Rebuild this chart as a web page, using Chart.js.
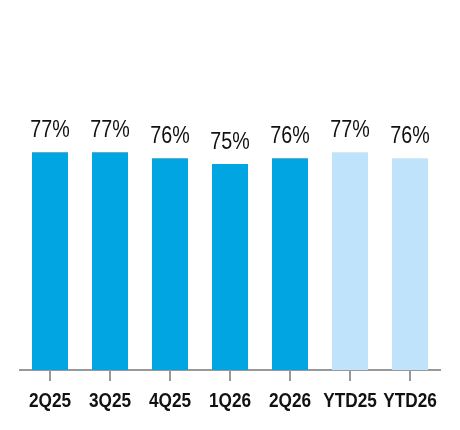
<!DOCTYPE html>
<html>
<head>
<meta charset="utf-8">
<script src="https://cdn.jsdelivr.net/npm/chart.js@4/dist/chart.umd.min.js"></script>
<style>
  html, body { margin: 0; padding: 0; background: #fff; }
  #wrap { width: 460px; height: 430px; position: relative; }
</style>
</head>
<body>
<div id="wrap"><canvas id="chart"></canvas></div>
<script>
"use strict";

const periods = ["2Q25", "3Q25", "4Q25", "1Q26", "2Q26", "YTD25", "YTD26"];
const ratios = [77, 77, 76, 75, 76, 77, 76];
const periodKinds = ["Q", "Q", "Q", "Q", "Q", "YTD", "YTD"];

const kindColor = { Q: "#00a5e1", YTD: "#bfe3fa" };
const narrow = 0.82;

// condensed text: no narrow face is installed, so squeeze Liberation Sans
function narrowText(ctx, text, x, y) {
  ctx.save();
  ctx.translate(x, y);
  ctx.scale(narrow, 1);
  ctx.fillText(text, 0, 0);
  ctx.restore();
}

const narrowLabels = {
  id: "narrowLabels",
  afterDatasetsDraw(chart) {
    const ctx = chart.ctx;
    const meta = chart.getDatasetMeta(0);
    const xScale = chart.scales.x;
    ctx.save();
    ctx.fillStyle = "#111";
    ctx.textAlign = "center";
    ctx.textBaseline = "alphabetic";

    ctx.font = "24px 'Liberation Sans', sans-serif";
    meta.data.forEach((bar, i) => {
      narrowText(ctx, ratios[i] + "%", bar.x, bar.y - 15);
    });

    ctx.font = "bold 21px 'Liberation Sans', sans-serif";
    periods.forEach((p, i) => {
      narrowText(ctx, p, xScale.getPixelForTick(i), xScale.top + 37);
    });
    ctx.restore();
  },
};

new Chart(document.getElementById("chart"), {
  type: "bar",
  data: {
    labels: periods,
    datasets: [
      {
        data: ratios,
        backgroundColor: periodKinds.map((k) => kindColor[k]),
        barPercentage: 0.6,
        categoryPercentage: 1.0,
      },
    ],
  },
  options: {
    responsive: true,
    maintainAspectRatio: false,
    animation: false,
    layout: { padding: { left: 20, right: 20, top: 17, bottom: 0 } },
    plugins: {
      legend: { display: false },
      tooltip: { enabled: false },
    },
    scales: {
      x: {
        afterFit: function (scale) {
          scale.height = 60;
        },
        grid: {
          offset: false,
          drawOnChartArea: false,
          drawTicks: true,
          tickLength: 11,
          color: "#999",
          lineWidth: 2,
        },
        border: { display: true, color: "#999", width: 2 },
        ticks: {
          autoSkip: false,
          maxRotation: 0,
          color: "rgba(0,0,0,0)",
          font: { size: 8 },
        },
      },
      y: {
        display: false,
        min: 40,
        max: 100,
      },
    },
  },
  plugins: [narrowLabels],
});
</script>
</body>
</html>
